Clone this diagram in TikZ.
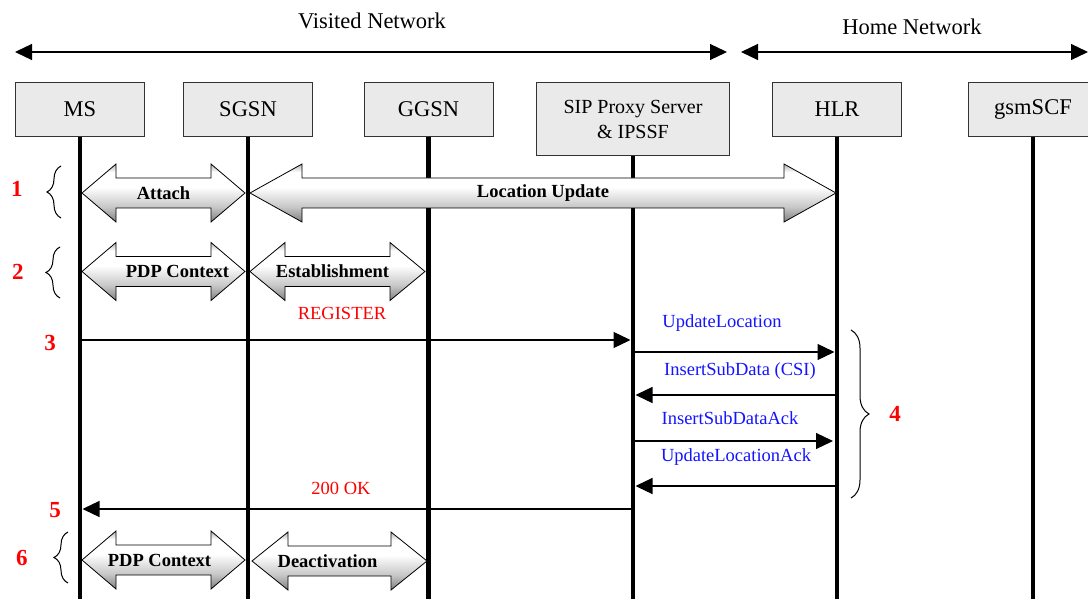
\documentclass[tikz,border=0pt]{standalone}
\usepackage{fontspec}
\setmainfont{Liberation Serif}
\usetikzlibrary{shapes,arrows.meta,decorations.pathreplacing}
\definecolor{boxgray}{RGB}{234,234,234}
\definecolor{msgblue}{RGB}{20,20,255}
\pgfdeclareverticalshading{metal}{100bp}{color(0bp)=(black!50); color(25bp)=(black!50);
  color(38bp)=(black!22); color(55bp)=(white); color(68bp)=(white); color(75bp)=(black!30); color(100bp)=(black!30)}
% name, left x, right x, y, head length, label shift, text
\newcommand{\blockarrow}[7]{
  \path[bigarrow] (#2,#4) -- ({#2+#5},{#4-29}) -- ({#2+#5},{#4-15}) -- ({#3-#5},{#4-15})
    -- ({#3-#5},{#4-29}) -- (#3,#4) -- ({#3-#5},{#4+29}) -- ({#3-#5},{#4+15})
    -- ({#2+#5},{#4+15}) -- ({#2+#5},{#4+29}) -- cycle;
  \node[blocklabel] (#1) at ({(#2+#3)/2+#6},#4) {#7};
}

\begin{document}
\begin{tikzpicture}[
      x=1pt,y=-1pt,
      entity/.style={rectangle,draw=black!80,fill=boxgray,line width=1pt,minimum width=129pt,minimum height=54pt,font=\fontsize{22.5}{26}\selectfont},
      lifeline/.style={line width=4.5pt},
      msg/.style={line width=1.2pt,shorten >=2.5pt,-{Triangle[length=17pt,width=16pt]}},
      netspan/.style={line width=1.2pt,{Triangle[length=17pt,width=16pt]}-{Triangle[length=17pt,width=16pt]}},
      netlabel/.style={font=\fontsize{22.5}{26}\selectfont,inner sep=0pt},
      msglabel/.style={font=\fontsize{18.5}{22}\selectfont,inner sep=0pt},
      steplabel/.style={text=red,font=\fontsize{23}{26}\selectfont\bfseries,inner sep=0pt},
      blocklabel/.style={font=\fontsize{18.5}{22}\selectfont\bfseries,inner sep=0pt},
      bigarrow/.style={draw=black,line width=0.8pt,shade,shading=metal},
      bracket/.style={decorate,decoration={brace,amplitude=14pt},line width=1pt}
      ]
      \useasboundingbox (0,0) rectangle (1088,599);
      \coordinate (bottom) at (0,599);

      % networks
      \node[netlabel] (visited) at (372,21) {Visited Network};
      \node[netlabel] (home) at (912,27) {Home Network};
      \coordinate (vl) at (15,52);
      \coordinate (vr) at (727,52);
      \coordinate (hl) at (741,52);
      \coordinate (hr) at (1088,52);
      \draw[netspan] (vl) -- (vr);
      \draw[netspan] (hl) -- (hr);

      % entities
      \node[entity,anchor=north] (ms) at (80,82) {MS};
      \node[entity,anchor=north] (sgsn) at (248,82) {SGSN};
      \node[entity,anchor=north] (ggsn) at (428.5,82) {GGSN};
      \node[entity,anchor=north,minimum width=193pt,minimum height=73pt,align=center,font=\fontsize{20}{25}\selectfont] (sip) at (633,82) {SIP Proxy Server\\ \& IPSSF};
      \node[entity,anchor=north] (hlr) at (837,82) {HLR};
      \node[entity,anchor=north] (scf) at (1033,82) {gsmSCF};
      \foreach \n in {ms,sgsn,ggsn,sip,hlr,scf}
        \draw[lifeline] (\n.south) -- (\n |- bottom);

      % block arrows
      \blockarrow{attach}{82}{245}{193}{34}{0}{Attach}
      \blockarrow{locupd}{250}{836}{193}{52}{0}{Location Update}
      \blockarrow{pdpup}{82}{245}{271.5}{34}{14}{PDP Context}
      \blockarrow{establish}{250}{425}{271.5}{35}{-5}{Establishment}
      \blockarrow{pdpdown}{82}{245}{560}{34}{-4}{PDP Context}
      \blockarrow{deact}{252}{427}{561}{36}{-12}{Deactivation}

      % messages
      \coordinate (m3) at (0,340);
      \coordinate (m4a) at (0,352);
      \coordinate (m4b) at (0,395);
      \coordinate (m4c) at (0,441);
      \coordinate (m4d) at (0,486);
      \coordinate (m5) at (0,509);
      \draw[msg] (ms |- m3) -- (sip |- m3);
      \draw[msg] (sip |- m4a) -- (hlr |- m4a);
      \draw[msg] (hlr |- m4b) -- (sip |- m4b);
      \draw[msg,shorten >=4pt] (sip |- m4c) -- (hlr |- m4c);
      \draw[msg] (hlr |- m4d) -- (sip |- m4d);
      \draw[msg] (sip |- m5) -- (ms |- m5);
      \node[msglabel,text=red] (register) at (342,313) {REGISTER};
      \node[msglabel,text=msgblue] (updloc) at (722,323) {UpdateLocation};
      \node[msglabel,text=msgblue] (insdata) at (740,371) {InsertSubData (CSI)};
      \node[msglabel,text=msgblue] (insack) at (730,418) {InsertSubDataAck};
      \node[msglabel,text=msgblue] (updack) at (736,457) {UpdateLocationAck};
      \node[msglabel,text=red] (ok) at (341,488) {200 OK};

      % steps
      \draw[bracket] (61,218) -- (61,166);
      \draw[bracket] (60,298) -- (60,247);
      \draw[bracket] (68,583) -- (68,532);
      \draw[bracket,decoration={amplitude=18pt}] (851,330) -- (851,498);
      \node[steplabel] (s1) at (17,189) {1};
      \node[steplabel] (s2) at (18,272) {2};
      \node[steplabel] (s3) at (50,343) {3};
      \node[steplabel] (s4) at (895,414) {4};
      \node[steplabel] (s5) at (55,510) {5};
      \node[steplabel] (s6) at (22,558) {6};
\end{tikzpicture}
\end{document}
